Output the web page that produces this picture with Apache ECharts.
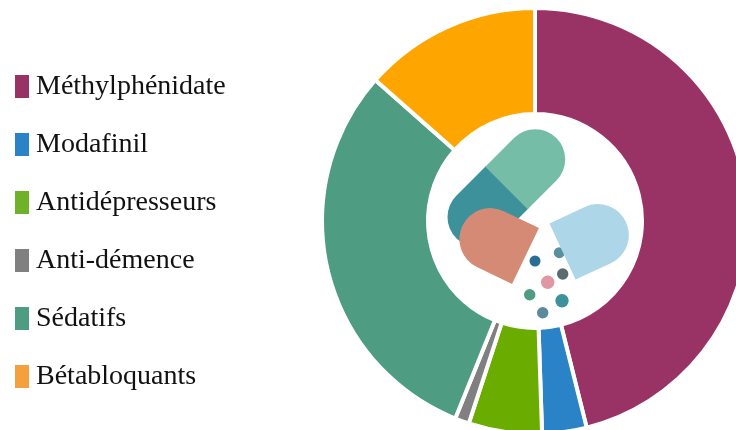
<!DOCTYPE html>
<html><head><meta charset="utf-8">
<script src="https://cdn.jsdelivr.net/npm/echarts@6/dist/echarts.min.js"></script>
<style>html,body{margin:0;padding:0;background:#fff}#c{width:736px;height:430px}</style>
</head><body><div id="c"></div>
<script>
const categories = ['Méthylphénidate','Modafinil','Antidépresseurs','Anti-démence','Sédatifs','Bétabloquants'];
const values = [46.1,3.37,5.56,1.08,30.4,13.49];
const sliceColors = ['#993366','#2a83c6','#6aad00','#808080','#4e9c82','#ffa500'];
const legendColors = ['#993366','#2a83c6','#6fb22a','#808080','#4e9c82','#f4a03c'];
const dots = [
 [535,261,5.5,'#2a6f93'],[559.3,252.7,5.5,'#5a8fa0'],[562.7,274,5.7,'#5b6b6d'],
 [547.7,282.3,6.7,'#e096a5'],[529.7,294.7,5.7,'#4e9c82'],[562,300.7,6.7,'#3d919b'],[542.7,312.7,5.7,'#5a8a9b']
];
// capsule halves: hinge x, hinge y, screen angle in degrees, length, end radius, colour
const pillBack = [
 [507.2,187.3,135,72,30,'#3d919b'],
 [506.5,188,-45,70.6,30,'#76bda7']
];
const pillFront = [
 [525.5,256,-154.3,70,31,'#d58a76'],
 [562.5,251.5,-24.9,70,31,'#aed6e9']
];
const chart = echarts.init(document.getElementById('c'),null,{renderer:'canvas'});
const half = (a,z)=>({type:'rect',z:z,x:a[0],y:a[1],rotation:-a[2]*Math.PI/180,
 shape:{x:0,y:-a[4],width:a[3],height:2*a[4],r:[0,a[4],a[4],0]},style:{fill:a[5]},silent:true});
chart.setOption({
 animation:false,
 legend:{orient:'vertical',left:15,top:72.5,padding:0,itemWidth:14,itemHeight:23,itemGap:30,icon:'rect',selectedMode:false,
  textStyle:{fontFamily:'Liberation Serif',fontSize:28,lineHeight:23,color:'#111',padding:[0,0,4,2]},
  data:categories.map((n,i)=>({name:n,itemStyle:{color:legendColors[i],borderWidth:0}}))},
 series:[{type:'pie',center:[535,221],radius:[107,213],startAngle:90,clockwise:true,silent:true,
  label:{show:false},labelLine:{show:false},
  itemStyle:{borderColor:'#fff',borderWidth:4},
  data:categories.map((n,i)=>({name:n,value:values[i],itemStyle:{color:sliceColors[i]}}))}],
 graphic:{elements:[
  ...pillBack.map(a=>half(a,10)),
  ...dots.map(d=>({type:'circle',z:11,shape:{cx:d[0],cy:d[1],r:d[2]},style:{fill:d[3]},silent:true})),
  ...pillFront.map(a=>half(a,12))
 ]}
});
</script></body></html>
